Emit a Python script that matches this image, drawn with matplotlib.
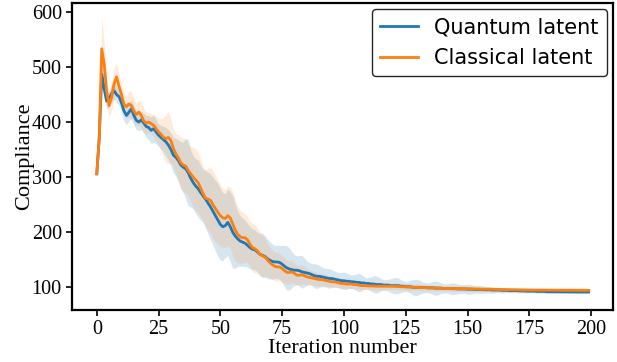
import matplotlib.pyplot as plt
import numpy as np

# iteration index
iters = np.arange(200)

# mean compliance, quantum latent
quantum_mean = [
    306, 372, 487, 460, 438, 442, 452, 457, 450, 446,
    435, 420, 412, 418, 424, 412, 403, 400, 404, 398,
    392, 390, 385, 388, 382, 376, 372, 368, 364, 358,
    350, 340, 336, 330, 322, 318, 315, 308, 298, 290,
    284, 279, 272, 266, 260, 253, 246, 238, 230, 222,
    214, 210, 212, 218, 210, 200, 193, 188, 184, 182,
    180, 176, 172, 169, 168, 164, 160, 158, 156, 152,
    149, 147, 146, 146, 145, 142, 138, 135, 133, 132,
    131, 131, 130, 128, 127, 126, 125, 123, 121, 120,
    120, 119, 118, 117, 116, 116, 115, 114, 113, 112,
    112, 111, 111, 110, 110, 109, 109, 108, 108, 107,
    107, 106, 106, 105, 105, 105, 104, 104, 104, 103,
    103, 103, 103, 102, 102, 101, 101, 101, 100, 100,
    100, 100, 99.5, 99.5, 99, 99, 99, 98.5, 98.5, 98.5,
    98, 98, 98, 97.5, 97.5, 97.5, 97, 97, 97, 97,
    96.5, 96.5, 96.5, 96, 96, 96, 96, 95.5, 95.5, 95.5,
    95, 95, 95, 95, 94.5, 94.5, 94.5, 94, 94, 94,
    94, 93.5, 93.5, 93.5, 93, 93, 93, 93, 92.5, 92.5,
    92.5, 92.5, 92, 92, 92, 92, 92, 91.8, 91.8, 91.8,
    91.7, 91.7, 91.7, 91.6, 91.6, 91.6, 91.6, 91.6, 91.6, 91.6,
]

# mean compliance, classical latent
classical_mean = [
    306, 372, 533, 505, 455, 430, 445, 470, 482, 465,
    450, 432, 428, 433, 430, 420, 414, 418, 412, 402,
    398, 400, 397, 394, 388, 382, 378, 372, 370, 372,
    366, 352, 342, 335, 326, 322, 320, 312, 306, 300,
    295, 290, 280, 270, 262, 260, 258, 250, 243, 236,
    230, 226, 225, 230, 226, 215, 204, 196, 192, 190,
    190, 186, 178, 172, 170, 166, 160, 157, 155, 150,
    145, 141, 138, 137, 137, 134, 130, 127, 127, 128,
    125, 122, 122, 123, 121, 119, 118, 117, 116, 115,
    114, 114, 113, 112, 111, 110, 110, 109, 108, 107,
    107, 106, 106, 106, 105, 105, 104, 103, 103, 103,
    102.5, 102.5, 102.5, 102, 102, 102, 102, 102, 102, 102,
    102, 101.5, 101.5, 101, 101, 101, 100.5, 100.5, 100, 100,
    100, 99.5, 99.5, 99.5, 99, 99, 99, 98.5, 98.5, 98.5,
    98, 98, 98, 98, 97.8, 97.6, 97.6, 97.5, 97.4, 97.3,
    97.2, 97.1, 97, 96.9, 96.8, 96.7, 96.6, 96.5, 96.4, 96.3,
    96.2, 96.1, 96, 95.9, 95.8, 95.7, 95.6, 95.5, 95.4, 95.3,
    95.2, 95.1, 95, 95, 95, 95, 95, 94.9, 94.9, 94.9,
    94.8, 94.8, 94.8, 94.7, 94.7, 94.7, 94.7, 94.6, 94.6, 94.6,
    94.6, 94.6, 94.5, 94.5, 94.5, 94.5, 94.5, 94.5, 94.5, 94.5,
]

# standard deviation bands
quantum_std = [
    2, 10, 18, 16, 14, 15, 16, 15, 14, 15,
    16, 18, 17, 16, 17, 18, 17, 16, 17, 18,
    20, 22, 24, 25, 22, 20, 22, 24, 26, 28,
    30, 32, 34, 38, 42, 46, 55, 60, 52, 48,
    50, 52, 50, 48, 52, 56, 60, 62, 64, 66,
    65, 62, 58, 60, 64, 66, 58, 50, 46, 44,
    42, 40, 38, 37, 36, 36, 38, 40, 38, 36,
    34, 32, 30, 30, 31, 34, 38, 40, 38, 32,
    28, 26, 28, 30, 26, 22, 20, 20, 22, 22,
    20, 18, 17, 17, 18, 16, 15, 14, 14, 15,
    16, 15, 13, 12, 13, 15, 17, 15, 12, 10,
    11, 13, 15, 16, 14, 11, 10, 10, 11, 13,
    14, 15, 14, 12, 10, 9, 10, 12, 14, 15,
    14, 12, 10, 9, 9, 10, 12, 13, 12, 10,
    9, 8, 9, 10, 11, 10, 9, 8, 8, 8,
    9, 9, 8, 7, 7, 7, 7, 6, 6, 6,
    6, 5, 5, 5, 5, 5, 4, 4, 4, 4,
    4, 4, 4, 4, 3, 3, 3, 3, 3, 3,
    3, 3, 3, 3, 3, 3, 3, 3, 3, 3,
    3, 3, 3, 3, 3, 3, 3, 3, 3, 3,
]

classical_std = [
    2, 20, 58, 40, 25, 20, 25, 30, 25, 22,
    20, 18, 20, 24, 26, 22, 20, 22, 24, 22,
    20, 18, 18, 20, 22, 24, 28, 36, 44, 47,
    40, 34, 36, 42, 48, 50, 48, 46, 50, 54,
    56, 55, 52, 50, 52, 56, 60, 62, 60, 58,
    56, 54, 52, 54, 56, 58, 56, 52, 48, 46,
    44, 42, 42, 44, 44, 42, 40, 38, 34, 30,
    28, 27, 26, 26, 25, 24, 23, 22, 21, 20,
    19, 18, 18, 17, 16, 15, 14, 13, 13, 12,
    12, 11, 11, 10, 10, 10, 9, 9, 9, 9,
    8, 8, 8, 8, 8, 8, 7, 7, 7, 7,
    7, 7, 7, 7, 7, 7, 6, 6, 6, 6,
    6, 6, 6, 6, 6, 6, 6, 6, 6, 6,
    6, 6, 6, 6, 5, 5, 5, 5, 5, 5,
    5, 5, 5, 5, 5, 5, 5, 5, 5, 5,
    5, 5, 5, 5, 5, 5, 4, 4, 4, 4,
    4, 4, 4, 4, 4, 4, 4, 4, 4, 4,
    4, 4, 4, 4, 4, 4, 4, 4, 4, 4,
    4, 4, 4, 4, 4, 4, 4, 4, 4, 4,
    4, 4, 4, 4, 4, 4, 4, 4, 4, 4,
]

series_names = ['Quantum latent', 'Classical latent']


def main():
    plt.rcParams['font.family'] = ['Liberation Serif', 'DejaVu Serif']

    fig = plt.figure(figsize=(6.17, 3.62), dpi=100)
    ax = fig.add_axes([0.117, 0.145, 0.877, 0.847])

    q_mean = np.array(quantum_mean)
    c_mean = np.array(classical_mean)
    q_std = np.array(quantum_std)
    c_std = np.array(classical_std)

    ax.plot(iters, q_mean, color='#1f77b4', linewidth=2, label=series_names[0])
    ax.fill_between(iters, q_mean - q_std, q_mean + q_std, color='#1f77b4', alpha=0.18, linewidth=0)
    ax.plot(iters, c_mean, color='#ff7f0e', linewidth=2, label=series_names[1])
    ax.fill_between(iters, c_mean - c_std, c_mean + c_std, color='#ff7f0e', alpha=0.15, linewidth=0)

    ax.set_xlabel('Iteration number', fontsize=16, labelpad=0)
    ax.set_ylabel('Compliance', fontsize=16, labelpad=-2)
    ax.set_xticks([0, 25, 50, 75, 100, 125, 150, 175, 200])
    ax.set_yticks([100, 200, 300, 400, 500, 600])
    ax.tick_params(labelsize=14.5, width=1.2, length=4)
    for sp in ax.spines.values():
        sp.set_linewidth(1.6)

    leg = ax.legend(loc='upper right', prop={'family': 'DejaVu Sans', 'size': 15},
                    edgecolor='0.15', framealpha=1.0, handlelength=1.8,
                    borderaxespad=0.3)
    leg.get_frame().set_linewidth(1.0)

    fig.savefig('out.png', dpi=100)


if __name__ == '__main__':
    main()
